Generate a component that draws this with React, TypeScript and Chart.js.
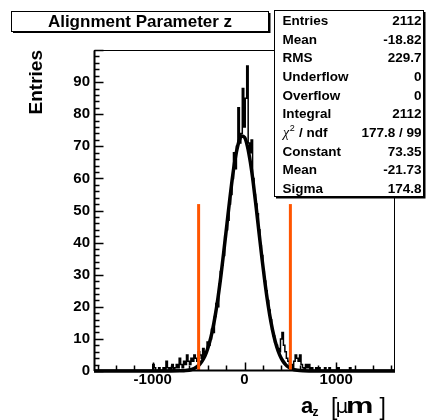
import React, { useEffect, useRef } from "react";
import { Chart, registerables } from "chart.js";

Chart.register(...registerables);

// ---------------- data ----------------
const histMin = -1640;
const histMax = 1640;
const binWidth = 16;
// counts per bin, from histMin upward (205 bins)
const binCounts: number[] = [
  0, 0, 0, 0, 0, 0, 0, 0, 0, 0,
  0, 0, 0, 0, 0, 0, 0, 0, 0, 0,
  0, 0, 0, 0, 0, 0, 0, 0, 0, 0,
  0, 0, 0, 0, 0, 0, 0, 0, 0, 0,
  2, 1, 0, 0, 1, 0, 0, 1, 0, 3,
  1, 0, 1, 2, 0, 1, 2, 1, 4, 2,
  1, 3, 2, 5, 3, 2, 4, 3, 5, 4,
  3, 6, 5, 4, 7, 5, 6, 9, 8, 10,
  13, 12, 17, 21, 20, 27, 31, 33, 36, 42,
  44, 47, 52, 55, 60, 68, 63, 70, 82, 71,
  74, 88, 76, 85, 95, 71, 68, 72, 60, 55,
  52, 49, 44, 39, 36, 31, 28, 25, 22, 19,
  16, 13, 11, 9, 8, 7, 6, 10, 12, 8,
  6, 4, 3, 2, 2, 1, 3, 5, 4, 3,
  5, 2, 1, 0, 2, 1, 2, 0, 1, 0,
  0, 1, 0, 1, 0, 0, 0, 1, 0, 0,
  1, 0, 0, 0, 0, 0, 1, 0, 0, 0,
  0, 0, 0, 0, 1, 0, 0, 0, 0, 0,
  0, 0, 0, 0, 0, 0, 0, 0, 0, 0,
  0, 0, 0, 0, 0, 0, 0, 0, 0, 0,
  0, 0, 0, 0, 0,
];

// fitted curve
const fitX: number[] = [
  -1640, -800, -704, -640, -576, -544, -512, -480, -448, -416, -384, -352, -320,
  -288, -256, -224, -192, -160, -128, -96, -64, -32, 0, 32, 64, 96, 128, 160,
  192, 224, 256, 288, 320, 352, 384, 416, 448, 480, 512, 544, 576, 640, 704, 800, 1640,
];
const fitY: number[] = [
  0, 0, 0.04, 0.14, 0.48, 0.85, 1.44, 2.36, 3.75, 5.76, 8.57, 12.3, 17.1,
  23.0, 29.9, 37.6, 45.6, 53.6, 61.0, 67.0, 71.2, 73.2, 72.8, 70.0, 65.0, 58.5, 50.8, 42.7,
  34.7, 27.3, 20.8, 15.3, 10.9, 7.46, 4.96, 3.19, 1.98, 1.19, 0.69, 0.39, 0.21, 0.06, 0.01, 0, 0,
];

const cutPositions: number[] = [-500, 500];
const cutHeight = 52;

const xTickLabels: number[] = [-1000, 0, 1000];
const yTickLabels: number[] = [0, 10, 20, 30, 40, 50, 60, 70, 80, 90];
const xMinorStep = 200;
const xMajorStep = 1000;
const yMinorStep = 2;
const yMajorStep = 10;
const yMin = 0;
const yMax = 100;

const statLabels: string[] = [
  "Entries", "Mean", "RMS", "Underflow", "Overflow", "Integral",
  "χ² / ndf", "Constant", "Mean", "Sigma",
];
const statValues: string[] = [
  "2112", "-18.82", "229.7", "0", "0", "2112",
  "177.8 / 99", "73.35", "-21.73", "174.8",
];

const chartTitle = "Alignment Parameter z";
const yAxisTitle = "Entries";
const xAxisTitleMain = "a";
const xAxisTitleSub = "z";
const xAxisUnitPrefix = "μ";
const xAxisUnit = "m";

// ---------------- styling ----------------
const SANS = "'Liberation Sans', Arial, Helvetica, sans-serif";

const rootStyle = {
  id: "rootStyle",
  afterDraw(chart: any) {
    const ctx = chart.ctx as CanvasRenderingContext2D;
    const { left, right, top, bottom } = chart.chartArea;
    const xs = chart.scales.x;
    const ys = chart.scales.y;
    const L = Math.round(left) + 0.5;
    const R = Math.round(right) - 0.5;
    const T = Math.round(top) + 0.5;
    const B = Math.round(bottom) - 0.5;

    ctx.save();
    ctx.strokeStyle = "#000";
    ctx.fillStyle = "#000";

    // frame
    ctx.lineWidth = 1;
    ctx.strokeRect(L, T, R - L, B - T);
    // axis lines
    ctx.lineWidth = 2;
    ctx.beginPath();
    ctx.moveTo(L, T);
    ctx.lineTo(L, B + 0.5);
    ctx.moveTo(L - 0.5, B);
    ctx.lineTo(R, B);
    ctx.stroke();

    // y ticks (inside)
    ctx.lineWidth = 1.5;
    ctx.beginPath();
    for (let v = yMin; v <= yMax; v += yMinorStep) {
      const py = Math.round(ys.getPixelForValue(v)) + 0.5;
      const len = v % yMajorStep === 0 ? 9 : 5;
      ctx.moveTo(L, py);
      ctx.lineTo(L + len, py);
    }
    // x ticks (inside)
    const x0 = Math.ceil(histMin / xMinorStep) * xMinorStep;
    for (let v = x0; v <= histMax; v += xMinorStep) {
      const px = Math.round(xs.getPixelForValue(v)) + 0.5;
      const len = v % xMajorStep === 0 ? 8 : 5;
      ctx.moveTo(px, B);
      ctx.lineTo(px, B - len);
    }
    ctx.stroke();

    // title box
    ctx.lineWidth = 1;
    ctx.fillStyle = "#000";
    ctx.fillRect(13, 13, 257.5, 20);
    ctx.fillStyle = "#fff";
    ctx.fillRect(11.5, 11.5, 257, 20);
    ctx.strokeRect(11.5, 11.5, 257, 20);
    ctx.fillStyle = "#000";
    ctx.font = `bold 17px ${SANS}`;
    ctx.textAlign = "center";
    ctx.textBaseline = "alphabetic";
    ctx.fillText(chartTitle, 140, 27);

    // stats box
    ctx.fillStyle = "#000";
    ctx.fillRect(276, 12, 149.5, 186.5);
    ctx.fillStyle = "#fff";
    ctx.fillRect(274.5, 10.5, 149, 186);
    ctx.strokeRect(274.5, 10.5, 149, 186);
    ctx.fillStyle = "#000";
    statLabels.forEach((lab, i) => {
      const yb = 25 + 18.67 * i;
      ctx.textAlign = "left";
      if (lab.startsWith("χ")) {
        ctx.font = `italic 14px 'Liberation Serif', serif`;
        ctx.fillText(lab.charAt(0), 283, yb);
        const w1 = ctx.measureText(lab.charAt(0)).width;
        ctx.font = `9px ${SANS}`;
        ctx.fillText("2", 283 + w1 + 0.5, yb - 6);
        const w2 = ctx.measureText("2").width;
        ctx.font = `bold 13.5px ${SANS}`;
        ctx.fillText(lab.slice(2), 283 + w1 + w2 + 1, yb);
      } else {
        ctx.font = `bold 13.5px ${SANS}`;
        ctx.fillText(lab, 282.5, yb);
      }
      ctx.font = `bold 13.5px ${SANS}`;
      ctx.textAlign = "right";
      ctx.fillText(statValues[i], 421.5, yb);
    });

    // y axis title
    ctx.save();
    ctx.translate(42, 50);
    ctx.rotate(-Math.PI / 2);
    ctx.textAlign = "right";
    ctx.textBaseline = "alphabetic";
    ctx.font = `bold 19px ${SANS}`;
    ctx.fillText(yAxisTitle, 0, 0);
    ctx.restore();

    // x axis title
    ctx.textAlign = "left";
    ctx.textBaseline = "alphabetic";
    ctx.font = `bold 22px ${SANS}`;
    ctx.fillText(xAxisTitleMain, 301, 413);
    ctx.font = `bold 12px ${SANS}`;
    ctx.fillText(xAxisTitleSub, 312.5, 416);
    ctx.font = `23px ${SANS}`;
    ctx.fillText("[", 331, 415);
    ctx.font = `20px 'DejaVu Sans', sans-serif`;
    ctx.fillText(xAxisUnitPrefix, 335.5, 413);
    ctx.save();
    ctx.translate(346, 413);
    ctx.scale(1.4, 1);
    ctx.font = `bold 22px ${SANS}`;
    ctx.fillText(xAxisUnit, 0, 0);
    ctx.restore();
    ctx.font = `23px ${SANS}`;
    ctx.fillText("]", 379.5, 415);

    ctx.restore();
  },
};

export default function App() {
  const ref = useRef<HTMLCanvasElement>(null);

  useEffect(() => {
    const canvas = ref.current;
    if (!canvas) return;

    const histPoints = [{ x: histMin, y: 0 }];
    binCounts.forEach((c, i) => histPoints.push({ x: histMin + i * binWidth, y: c }));
    histPoints.push({ x: histMax, y: 0 });

    const fitPoints = fitX.map((x, i) => ({ x, y: fitY[i] }));

    const cutSets = cutPositions.map((x) => ({
      label: "cut",
      data: [
        { x, y: 0 },
        { x, y: cutHeight },
      ],
      borderColor: "#ff5500",
      borderWidth: 3,
      pointRadius: 0,
      order: 0,
      clip: false as any,
    }));

    const chart = new Chart(canvas, {
      type: "line",
      data: {
        datasets: [
          ...cutSets,
          {
            label: "fit",
            data: fitPoints,
            borderColor: "#000",
            borderWidth: 3.5,
            pointRadius: 0,
            cubicInterpolationMode: "monotone",
            order: 1,
            clip: false as any,
          },
          {
            label: "hist",
            data: histPoints,
            borderColor: "#000",
            borderWidth: 1.5,
            pointRadius: 0,
            stepped: true,
            order: 2,
          },
        ] as any,
      },
      options: {
        responsive: false,
        animation: false,
        events: [],
        layout: { padding: { left: 0, top: 50, right: 31, bottom: 0 } },
        plugins: {
          legend: { display: false },
          tooltip: { enabled: false },
          title: { display: false },
        },
        scales: {
          x: {
            type: "linear",
            min: histMin,
            max: histMax,
            grid: { display: false, drawTicks: false },
            border: { display: false },
            afterBuildTicks: (s: any) => {
              s.ticks = xTickLabels.map((v) => ({ value: v }));
            },
            afterFit: (s: any) => {
              s.height = 49;
            },
            ticks: {
              callback: (v: any) => String(v),
              font: { family: SANS, weight: "bold", size: 15 },
              color: "#000",
              padding: 0,
              maxRotation: 0,
              autoSkip: false,
            },
          },
          y: {
            type: "linear",
            min: yMin,
            max: yMax,
            grid: { display: false, drawTicks: false },
            border: { display: false },
            afterBuildTicks: (s: any) => {
              s.ticks = yTickLabels.map((v) => ({ value: v }));
            },
            afterFit: (s: any) => {
              s.width = 94;
            },
            ticks: {
              callback: (v: any) => String(v),
              font: { family: SANS, weight: "bold", size: 15 },
              color: "#000",
              padding: 4,
              autoSkip: false,
            },
          },
        },
      } as any,
      plugins: [rootStyle],
    });

    return () => chart.destroy();
  }, []);

  return (
    <div style={{ position: "absolute", left: 0, top: 0, width: 426, height: 420, background: "#fff" }}>
      <canvas ref={ref} width={426} height={420} style={{ display: "block", width: 426, height: 420 }} />
    </div>
  );
}
